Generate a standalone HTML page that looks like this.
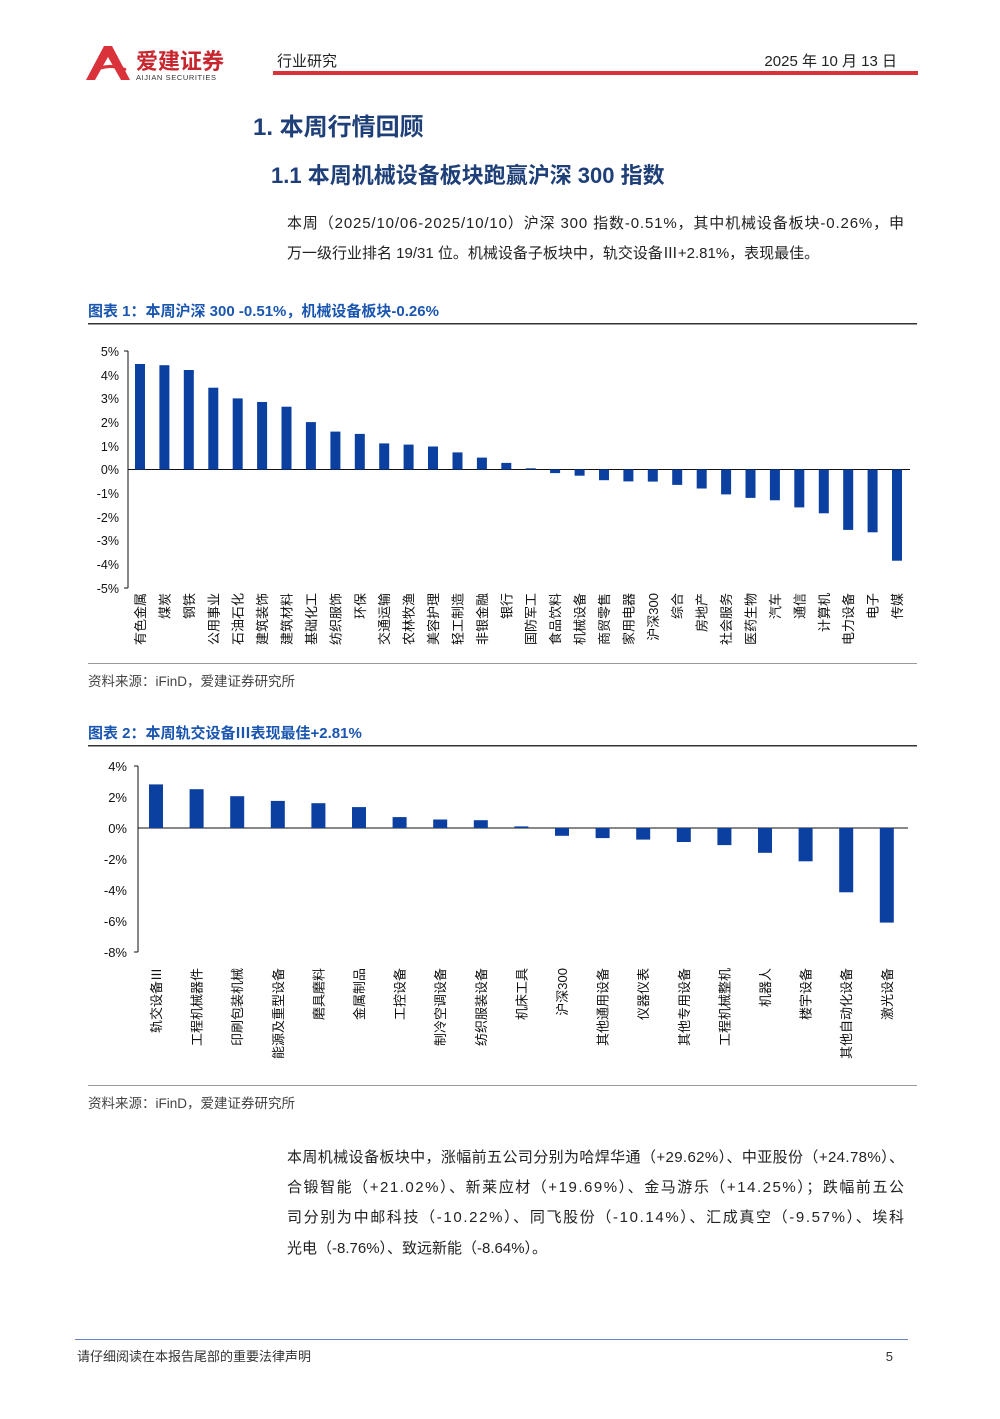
<!DOCTYPE html><html><head><meta charset="utf-8"><style>
body{margin:0;background:#fff}
svg text{font-family:"Liberation Sans","Noto Sans CJK SC",sans-serif}
</style></head><body>
<svg width="1000" height="1414" xmlns="http://www.w3.org/2000/svg">
<!-- header -->
<path d="M86 80 L104 46 L112 46 L130 80 L121 80 L108 57 L95 80Z" fill="#d9323a"/>
<path d="M92 72 Q108 62 126 70" stroke="#d9323a" stroke-width="3" fill="none"/>
<text x="136" y="69" font-size="22" font-weight="bold" fill="#c8262e">爱建证券</text>
<text x="136" y="80" font-size="7.5" fill="#333" letter-spacing="0.6">AIJIAN SECURITIES</text>
<text x="277" y="66" font-size="15" fill="#222">行业研究</text>
<text x="897" y="66" font-size="15" fill="#222" text-anchor="end">2025 年 10 月 13 日</text>
<rect x="273" y="71" width="645" height="4" fill="#d9323a"/>
<!-- titles -->
<text x="253" y="135" font-size="24" font-weight="bold" fill="#1e3f78">1.  本周行情回顾</text>
<text x="271" y="183" font-size="22" font-weight="bold" fill="#1e3f78">1.1 本周机械设备板块跑赢沪深 300 指数</text>
<text x="287" y="228" font-size="15" fill="#222" textLength="617">本周（2025/10/06-2025/10/10）沪深 300 指数-0.51%，其中机械设备板块-0.26%，申</text>
<text x="287" y="258" font-size="15" fill="#222">万一级行业排名 19/31 位。机械设备子板块中，轨交设备Ⅲ+2.81%，表现最佳。</text>
<!-- chart1 -->
<text x="88" y="316" font-size="15" font-weight="bold" fill="#1a56b0">图表 1：本周沪深 300 -0.51%，机械设备板块-0.26%</text>
<rect x="88" y="323" width="829" height="1.5" fill="#333"/>
<g font-size="12.5" fill="#111" text-anchor="end">
<text x="119" y="356">5%</text><text x="119" y="380">4%</text><text x="119" y="403">3%</text><text x="119" y="427">2%</text><text x="119" y="451">1%</text><text x="119" y="474">0%</text><text x="119" y="498">-1%</text><text x="119" y="522">-2%</text><text x="119" y="545">-3%</text><text x="119" y="569">-4%</text><text x="119" y="593">-5%</text>
</g>
<g stroke="#111" stroke-width="1"><line x1="128" y1="351" x2="128" y2="588"/><line x1="124" y1="351" x2="128" y2="351"/><line x1="124" y1="588" x2="128" y2="588"/><line x1="128" y1="469.5" x2="910" y2="469.5"/></g>
<g fill="#0b3fa0">
<rect x="135" y="364" width="10" height="105.5"/><rect x="159.4" y="365.2" width="10" height="104.3"/><rect x="183.8" y="370" width="10" height="99.5"/><rect x="208.3" y="387.7" width="10" height="81.8"/><rect x="232.7" y="398.4" width="10" height="71.1"/><rect x="257.1" y="402" width="10" height="67.5"/><rect x="281.5" y="406.7" width="10" height="62.8"/><rect x="305.9" y="422.1" width="10" height="47.4"/><rect x="330.4" y="431.6" width="10" height="37.9"/><rect x="354.8" y="433.9" width="10" height="35.6"/><rect x="379.2" y="443.4" width="10" height="26.1"/><rect x="403.6" y="444.6" width="10" height="24.9"/><rect x="428" y="446.5" width="10" height="23"/><rect x="452.5" y="452.4" width="10" height="17.1"/><rect x="476.9" y="457.6" width="10" height="11.9"/><rect x="501.3" y="462.9" width="10" height="6.6"/><rect x="525.7" y="468.3" width="10" height="1.2"/>
<rect x="550.1" y="469.5" width="10" height="3.6"/><rect x="574.6" y="469.5" width="10" height="6.2"/><rect x="599" y="469.5" width="10" height="10.7"/><rect x="623.4" y="469.5" width="10" height="11.9"/><rect x="647.8" y="469.5" width="10" height="12.1"/><rect x="672.2" y="469.5" width="10" height="15.4"/><rect x="696.7" y="469.5" width="10" height="19"/><rect x="721.1" y="469.5" width="10" height="24.9"/><rect x="745.5" y="469.5" width="10" height="28.4"/><rect x="769.9" y="469.5" width="10" height="30.8"/><rect x="794.3" y="469.5" width="10" height="37.9"/><rect x="818.8" y="469.5" width="10" height="43.8"/><rect x="843.2" y="469.5" width="10" height="60.4"/><rect x="867.6" y="469.5" width="10" height="62.8"/><rect x="892" y="469.5" width="10" height="91.2"/>
</g>
<g font-size="13" fill="#111" text-anchor="end">
<text transform="translate(145,593) rotate(-90)">有色金属</text><text transform="translate(169.4,593) rotate(-90)">煤炭</text><text transform="translate(193.8,593) rotate(-90)">钢铁</text><text transform="translate(218.3,593) rotate(-90)">公用事业</text><text transform="translate(242.7,593) rotate(-90)">石油石化</text><text transform="translate(267.1,593) rotate(-90)">建筑装饰</text><text transform="translate(291.5,593) rotate(-90)">建筑材料</text><text transform="translate(315.9,593) rotate(-90)">基础化工</text><text transform="translate(340.4,593) rotate(-90)">纺织服饰</text><text transform="translate(364.8,593) rotate(-90)">环保</text><text transform="translate(389.2,593) rotate(-90)">交通运输</text><text transform="translate(413.6,593) rotate(-90)">农林牧渔</text><text transform="translate(438,593) rotate(-90)">美容护理</text><text transform="translate(462.5,593) rotate(-90)">轻工制造</text><text transform="translate(486.9,593) rotate(-90)">非银金融</text><text transform="translate(511.3,593) rotate(-90)">银行</text><text transform="translate(535.7,593) rotate(-90)">国防军工</text><text transform="translate(560.1,593) rotate(-90)">食品饮料</text><text transform="translate(584.6,593) rotate(-90)">机械设备</text><text transform="translate(609,593) rotate(-90)">商贸零售</text><text transform="translate(633.4,593) rotate(-90)">家用电器</text><text transform="translate(657.8,593) rotate(-90)">沪深300</text><text transform="translate(682.2,593) rotate(-90)">综合</text><text transform="translate(706.7,593) rotate(-90)">房地产</text><text transform="translate(731.1,593) rotate(-90)">社会服务</text><text transform="translate(755.5,593) rotate(-90)">医药生物</text><text transform="translate(779.9,593) rotate(-90)">汽车</text><text transform="translate(804.3,593) rotate(-90)">通信</text><text transform="translate(828.8,593) rotate(-90)">计算机</text><text transform="translate(853.2,593) rotate(-90)">电力设备</text><text transform="translate(877.6,593) rotate(-90)">电子</text><text transform="translate(902,593) rotate(-90)">传媒</text>
</g>
<rect x="88" y="663" width="829" height="1" fill="#999"/>
<text x="88" y="686" font-size="13.5" fill="#444">资料来源：iFinD，爱建证券研究所</text>
<!-- chart2 -->
<text x="88" y="738" font-size="15" font-weight="bold" fill="#1a56b0">图表 2：本周轨交设备Ⅲ表现最佳+2.81%</text>
<rect x="88" y="745" width="829" height="1.5" fill="#333"/>
<g font-size="13" fill="#111" text-anchor="end">
<text x="127" y="771">4%</text><text x="127" y="802">2%</text><text x="127" y="833">0%</text><text x="127" y="864">-2%</text><text x="127" y="895">-4%</text><text x="127" y="926">-6%</text><text x="127" y="957">-8%</text>
</g>
<g stroke="#111" stroke-width="1"><line x1="138" y1="766" x2="138" y2="952"/><line x1="134" y1="766" x2="138" y2="766"/><line x1="134" y1="952" x2="138" y2="952"/><line x1="138" y1="828" x2="908" y2="828"/></g>
<g fill="#0b3fa0">
<rect x="149" y="784.4" width="14" height="43.6"/><rect x="189.6" y="789.2" width="14" height="38.8"/><rect x="230.2" y="796.2" width="14" height="31.8"/><rect x="270.8" y="800.9" width="14" height="27.1"/><rect x="311.4" y="803.2" width="14" height="24.8"/><rect x="352" y="807.1" width="14" height="20.9"/><rect x="392.6" y="817.1" width="14" height="10.9"/><rect x="433.2" y="819.5" width="14" height="8.5"/><rect x="473.8" y="820.2" width="14" height="7.8"/><rect x="514.4" y="826.4" width="14" height="1.6"/>
<rect x="555" y="828" width="14" height="7.8"/><rect x="595.6" y="828" width="14" height="10.1"/><rect x="636.2" y="828" width="14" height="11.6"/><rect x="676.8" y="828" width="14" height="14"/><rect x="717.4" y="828" width="14" height="17.1"/><rect x="758" y="828" width="14" height="24.8"/><rect x="798.6" y="828" width="14" height="33.3"/><rect x="839.2" y="828" width="14" height="64.3"/><rect x="879.8" y="828" width="14" height="94.6"/>
</g>
<g font-size="13" fill="#111" text-anchor="end">
<text transform="translate(161,968) rotate(-90)">轨交设备Ⅲ</text><text transform="translate(201.6,968) rotate(-90)">工程机械器件</text><text transform="translate(242.2,968) rotate(-90)">印刷包装机械</text><text transform="translate(282.8,968) rotate(-90)">能源及重型设备</text><text transform="translate(323.4,968) rotate(-90)">磨具磨料</text><text transform="translate(364,968) rotate(-90)">金属制品</text><text transform="translate(404.6,968) rotate(-90)">工控设备</text><text transform="translate(445.2,968) rotate(-90)">制冷空调设备</text><text transform="translate(485.8,968) rotate(-90)">纺织服装设备</text><text transform="translate(526.4,968) rotate(-90)">机床工具</text><text transform="translate(567,968) rotate(-90)">沪深300</text><text transform="translate(607.6,968) rotate(-90)">其他通用设备</text><text transform="translate(648.2,968) rotate(-90)">仪器仪表</text><text transform="translate(688.8,968) rotate(-90)">其他专用设备</text><text transform="translate(729.4,968) rotate(-90)">工程机械整机</text><text transform="translate(770,968) rotate(-90)">机器人</text><text transform="translate(810.6,968) rotate(-90)">楼宇设备</text><text transform="translate(851.2,968) rotate(-90)">其他自动化设备</text><text transform="translate(891.8,968) rotate(-90)">激光设备</text>
</g>
<rect x="88" y="1085" width="829" height="1" fill="#999"/>
<text x="88" y="1108" font-size="13.5" fill="#444">资料来源：iFinD，爱建证券研究所</text>
<!-- body text -->
<g font-size="15" fill="#222">
<text x="287" y="1162" textLength="617">本周机械设备板块中，涨幅前五公司分别为哈焊华通（+29.62%）、中亚股份（+24.78%）、</text>
<text x="287" y="1192" textLength="617">合锻智能（+21.02%）、新莱应材（+19.69%）、金马游乐（+14.25%）；跌幅前五公</text>
<text x="287" y="1222" textLength="617">司分别为中邮科技（-10.22%）、同飞股份（-10.14%）、汇成真空（-9.57%）、埃科</text>
<text x="287" y="1253">光电（-8.76%）、致远新能（-8.64%）。</text>
</g>
<!-- footer -->
<rect x="75" y="1339" width="833" height="1" fill="#6a86c0"/>
<text x="77" y="1361" font-size="13" fill="#333">请仔细阅读在本报告尾部的重要法律声明</text>
<text x="893" y="1361" font-size="13" fill="#333" text-anchor="end">5</text>
</svg>
</body></html>
